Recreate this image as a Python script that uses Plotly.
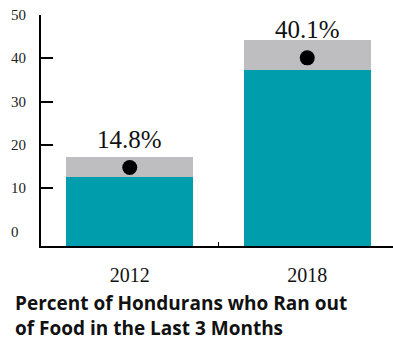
import plotly.graph_objects as go

# ---- data ----
years = ["2012", "2018"]
estimate = [14.8, 40.1]          # point estimate (dot + label)
ci_low = [12.5, 37.2]            # lower bound (teal bar top)
ci_high = [17.3, 44.2]           # upper bound (grey bar top)
y_ticks = [0, 10, 20, 30, 40, 50]
title_lines = ["Percent of Hondurans who Ran out", "of Food in the Last 3 Months"]

Y_MIN, Y_MAX = -3.34, 50
TEAL = "#009DAC"
GREY = "#BEBEC0"
SERIF = "Liberation Serif, Times New Roman, serif"
SANS = "Open Sans, Noto Sans, sans-serif"
PLOT_H = 231.5

fig = go.Figure()

fig.add_trace(go.Bar(
    x=years, y=[v - Y_MIN for v in ci_low], base=[Y_MIN] * len(years),
    marker=dict(color=TEAL, line=dict(width=0)), width=0.717,
    hoverinfo="skip", showlegend=False,
))
fig.add_trace(go.Bar(
    x=years, y=[h - l for h, l in zip(ci_high, ci_low)], base=ci_low,
    marker=dict(color=GREY, line=dict(width=0)), width=0.717,
    hoverinfo="skip", showlegend=False,
))
fig.add_trace(go.Scatter(
    x=years, y=estimate, mode="markers",
    marker=dict(color="black", size=15),
    hoverinfo="skip", showlegend=False,
))

annotations = []
for i, v in enumerate(estimate):
    annotations.append(dict(
        x=i, y=v, xref="x", yref="y", text=f"{v:.1f}%", showarrow=False,
        yshift=28, font=dict(family=SERIF, size=25, color="#111"),
    ))
for t in y_ticks:
    annotations.append(dict(
        x=-32 / 352, y=t, xref="paper", yref="y", text=str(t), showarrow=False,
        xanchor="left", yanchor="middle",
        font=dict(family=SERIF, size=15, color="#222"),
    ))
annotations.append(dict(
    x=-28 / 352, y=(246.5 - 316.5) / PLOT_H, xref="paper", yref="paper",
    text="<br>".join(f"<b>{l}</b>" for l in title_lines), showarrow=False, align="left",
    xanchor="left", yanchor="middle",
    font=dict(family=SANS, size=19, color="#111"),
))

fig.update_layout(
    width=393, height=343,
    margin=dict(l=41, r=0, t=15, b=96.5),
    paper_bgcolor="white", plot_bgcolor="white",
    barmode="overlay", bargap=0,
    annotations=annotations,
    xaxis=dict(
        type="category", range=[-0.5, 1.483],
        showline=True, linecolor="black", linewidth=1.5,
        ticks="inside", tickson="boundaries", ticklen=4, tickcolor="black", tickwidth=1,
        showgrid=False, zeroline=False,
        tickfont=dict(family=SERIF, size=20, color="#111"),
        ticklabelstandoff=10,
    ),
    yaxis=dict(
        range=[Y_MIN, Y_MAX],
        showline=True, linecolor="black", linewidth=1.5,
        tickvals=[t for t in y_ticks if t > 0], showticklabels=False,
        ticks="inside", ticklen=12, tickcolor="black", tickwidth=1.5,
        showgrid=False, zeroline=False,
    ),
)

fig.write_html("out.html")
